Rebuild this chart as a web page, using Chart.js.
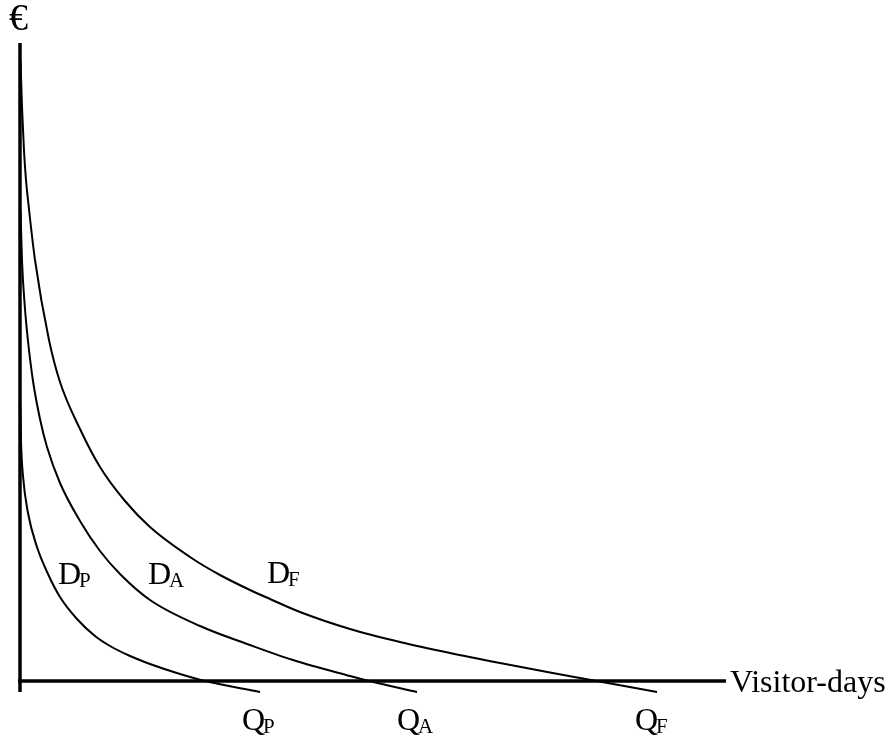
<!DOCTYPE html>
<html lang="en">

<head>
    <meta charset="UTF-8">
    <title>Demand curves - visitor-days</title>
    <script src="https://cdn.jsdelivr.net/npm/chart.js"></script>
    <style>
        html, body { margin: 0; padding: 0; background: #fff; }
        #wrap { width: 888px; height: 738px; }
    </style>
</head>

<body>
    <div id="wrap"><canvas id="demandChart" width="888" height="738"></canvas></div>

    <script>
        // Curves (x = visitor-days, y = euro, arbitrary units)
        const dpX = [0.3, 1, 3, 8, 17, 28, 40, 57, 75, 90, 110, 130, 160, 185, 240];
        const dpY = [275, 240, 205, 168, 134, 107, 84, 62, 45, 35, 25, 17, 7, 0, -11];

        const daX = [0.5, 2, 5, 8, 13, 20, 27, 40, 60, 80, 100, 130, 180, 230, 273, 330, 347, 397];
        const daY = [470, 420, 372, 340, 300, 262, 234, 198, 160, 130, 107, 81, 55, 36, 21, 5, 0.5, -11];

        const dfX = [0.5, 2, 4, 6, 8, 15, 29, 40, 60, 80, 105, 130, 173, 200, 230, 250, 280, 330, 380, 430, 480, 530, 560, 637];
        const dfY = [620, 574, 530, 501, 481, 421, 341, 299, 252, 214, 180, 154, 122, 106, 91, 82, 69, 52, 39, 28, 18, 8.5, 3, -11];

        // axis lines
        const axisX = [0, 0];
        const axisY = [638, -11];
        const baseX = [-2, 706];
        const baseY = [0, 0];

        // text labels: [main, subscript, x, y]
        const curveLabels = [['D', 'P', 38, 97], ['D', 'A', 128, 97], ['D', 'F', 247, 98]];
        const qLabels = [['Q', 'P', 222, -49], ['Q', 'A', 377, -49], ['Q', 'F', 615, -49]];
        const euroLabel = ['€', -11, 651];
        const xTitle = ['Visitor-days', 710, -11];

        function pts(xs, ys) {
            return xs.map((x, i) => ({ x: x, y: ys[i] }));
        }

        function curve(xs, ys) {
            return {
                data: pts(xs, ys),
                borderColor: '#000',
                borderWidth: 2,
                pointRadius: 0,
                cubicInterpolationMode: 'monotone',
                clip: false
            };
        }

        function axisLine(xs, ys) {
            return {
                data: pts(xs, ys),
                borderColor: '#000',
                borderWidth: 3.5,
                pointRadius: 0,
                tension: 0,
                clip: false
            };
        }

        // draws the euro sign, axis title and the D / Q labels
        const labelPlugin = {
            id: 'labels',
            afterDraw(chart) {
                const ctx = chart.ctx;
                const xs = chart.scales.x;
                const ys = chart.scales.y;
                ctx.save();
                ctx.fillStyle = '#000';
                ctx.textBaseline = 'alphabetic';
                ctx.textAlign = 'left';

                ctx.font = '38px "Liberation Serif"';
                ctx.fillText(euroLabel[0], xs.getPixelForValue(euroLabel[1]), ys.getPixelForValue(euroLabel[2]));
                ctx.font = '32px "Liberation Serif"';
                ctx.fillText(xTitle[0], xs.getPixelForValue(xTitle[1]), ys.getPixelForValue(xTitle[2]));

                curveLabels.concat(qLabels).forEach(l => {
                    const px = xs.getPixelForValue(l[2]);
                    const py = ys.getPixelForValue(l[3]);
                    ctx.font = '32px "Liberation Serif"';
                    ctx.fillText(l[0], px, py);
                    const w = ctx.measureText(l[0]).width;
                    ctx.font = '21px "Liberation Serif"';
                    ctx.fillText(l[1], px + w - 2, py + 3);
                });
                ctx.restore();
            }
        };

        new Chart(document.getElementById('demandChart'), {
            type: 'line',
            data: {
                datasets: [
                    axisLine(axisX, axisY),
                    axisLine(baseX, baseY),
                    curve(dpX, dpY),
                    curve(daX, daY),
                    curve(dfX, dfY)
                ]
            },
            options: {
                responsive: false,
                animation: false,
                layout: { padding: { left: 20, right: 168, top: 41, bottom: 37 } },
                plugins: {
                    legend: { display: false },
                    tooltip: { enabled: false }
                },
                scales: {
                    x: { type: 'linear', min: 0, max: 700, display: false },
                    y: { type: 'linear', min: -20, max: 640, display: false }
                }
            },
            plugins: [labelPlugin]
        });
    </script>
</body>

</html>
